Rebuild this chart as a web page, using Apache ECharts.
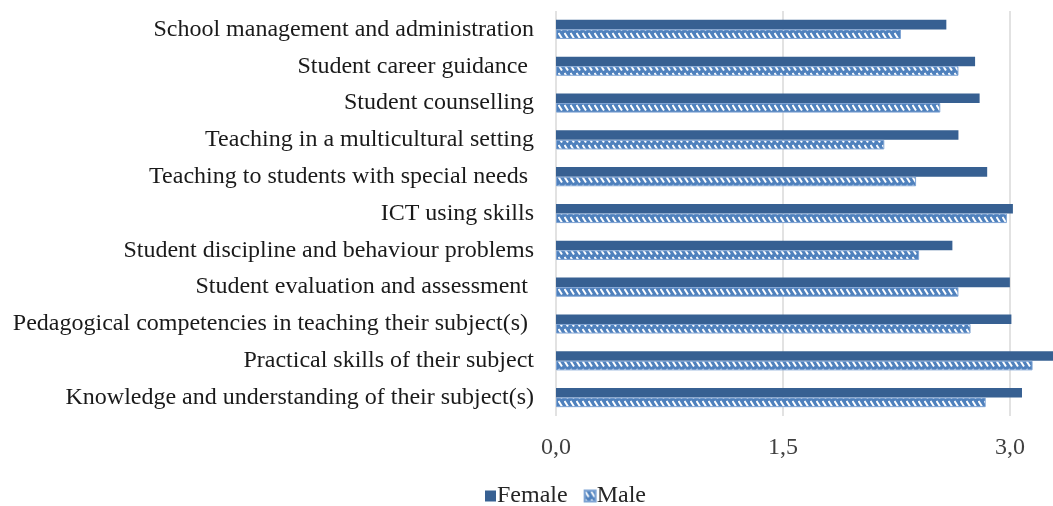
<!DOCTYPE html>
<html>
<head>
<meta charset="utf-8">
<script src="https://cdn.jsdelivr.net/npm/echarts@6/dist/echarts.min.js"></script>
<style>
html,body{margin:0;padding:0;background:#fff;}
#chart{width:1053px;height:506px;}
</style>
</head>
<body>
<div id="chart"></div>
<script>
var categories = [
  "School management and administration",
  "Student career guidance ",
  "Student counselling",
  "Teaching in a multicultural setting",
  "Teaching to students with special needs ",
  "ICT using skills",
  "Student discipline and behaviour problems",
  "Student evaluation and assessment ",
  "Pedagogical competencies in teaching their subject(s) ",
  "Practical skills of their subject",
  "Knowledge and understanding of their subject(s)"
];
var femaleValues = [2.58, 2.77, 2.80, 2.66, 2.85, 3.02, 2.62, 3.00, 3.01, 3.35, 3.08];
var maleValues   = [2.28, 2.66, 2.54, 2.17, 2.38, 2.98, 2.40, 2.66, 2.74, 3.15, 2.84];
var xTicks = [0, 1.5, 3.0];

function makePattern() {
  var c = document.createElement('canvas');
  c.width = 6; c.height = 8;
  var g = c.getContext('2d');
  g.fillStyle = '#4F81BD';
  g.fillRect(0, 0, 6, 8);
  g.strokeStyle = '#ffffff';
  g.lineWidth = 2;
  g.beginPath();
  g.moveTo(0.5, 1);
  g.lineTo(4, 6.5);
  g.stroke();
  return c;
}
var pattern = makePattern();

var chart = echarts.init(document.getElementById('chart'), null, {renderer: 'canvas'});
var font = '"Liberation Serif", "Times New Roman", serif';
chart.setOption({
  animation: false,
  backgroundColor: '#ffffff',
  textStyle: {fontFamily: font},
  grid: {left: 556, top: 11, height: 405, width: 497, containLabel: false},
  legend: {
    data: ['Female', 'Male'],
    left: 480, top: 479,
    itemWidth: 11, itemHeight: 11, itemGap: 16,
    icon: 'rect',
    textStyle: {fontFamily: font, fontSize: 24, color: '#262626', padding: [0, 0, 0, -4]}
  },
  xAxis: {
    type: 'value', min: 0, max: 3.285, interval: 1.5,
    axisLine: {show: false}, axisTick: {show: false},
    splitLine: {show: true, showMaxLine: false, lineStyle: {color: '#D9D9D9', width: 1.5}},
    axisLabel: {
      margin: 20, fontFamily: font, fontSize: 24, color: '#404040', showMaxLabel: false,
      formatter: function (v) { return xTicks.indexOf(v) >= 0 ? v.toFixed(1).replace('.', ',') : ''; }
    }
  },
  yAxis: {
    type: 'category', data: categories, inverse: true,
    axisLine: {show: false}, axisTick: {show: false},
    axisLabel: {margin: 22, fontFamily: font, fontSize: 24, color: '#1a1a1a'}
  },
  series: [
    {
      name: 'Female', type: 'bar', data: femaleValues,
      barGap: '0%', barCategoryGap: '48%',
      itemStyle: {color: '#376092'}
    },
    {
      name: 'Male', type: 'bar', data: maleValues,
      barGap: '0%', barCategoryGap: '48%',
      itemStyle: {color: {image: pattern, repetition: 'repeat'}, borderColor: '#7EA3D3', borderWidth: 1}
    }
  ]
});
</script>
</body>
</html>
